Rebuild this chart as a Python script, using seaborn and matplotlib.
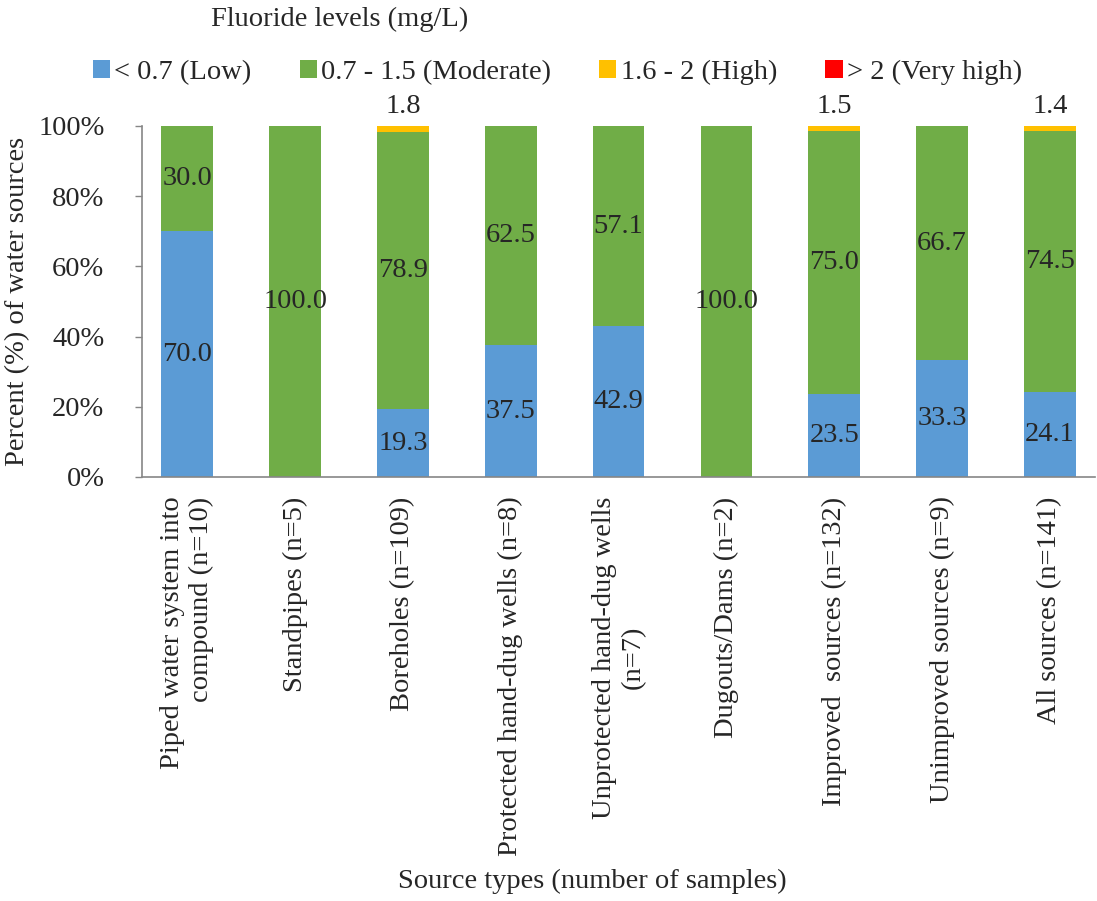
import matplotlib
matplotlib.use("Agg")
import matplotlib.pyplot as plt
import seaborn as sns
import numpy as np
import pandas as pd
from matplotlib.patches import Patch

categories = [
    "Piped water system into\ncompound (n=10)",
    "Standpipes (n=5)",
    "Boreholes (n=109)",
    "Protected hand-dug wells (n=8)",
    "Unprotected hand-dug wells\n(n=7)",
    "Dugouts/Dams (n=2)",
    "Improved  sources (n=132)",
    "Unimproved sources (n=9)",
    "All sources (n=141)",
]
low = [70.0, 0.0, 19.3, 37.5, 42.9, 0.0, 23.5, 33.3, 24.1]
moderate = [30.0, 100.0, 78.9, 62.5, 57.1, 100.0, 75.0, 66.7, 74.5]
high = [0.0, 0.0, 1.8, 0.0, 0.0, 0.0, 1.5, 0.0, 1.4]
very_high = [0.0] * 9

series_names = ["< 0.7 (Low)", "0.7 - 1.5 (Moderate)", "1.6 - 2 (High)", "> 2 (Very high)"]
colors = ["#5B9BD5", "#70AD47", "#FFC000", "#FF0000"]

sns.set_theme(style="white")
plt.rcParams["font.family"] = ["Liberation Serif", "DejaVu Serif"]

FS = 20.5

fig = plt.figure(figsize=(10.97, 9.01), dpi=100)
ax = fig.add_axes([0.1294, 0.4706, 0.869, 0.3896])

df = pd.DataFrame({"cat": categories, "low": low, "moderate": moderate,
                   "high": high, "very_high": very_high})
bottom = np.zeros(len(categories))
for col, name, color in zip(["low", "moderate", "high", "very_high"], series_names, colors):
    sns.barplot(data=df, x="cat", y=col, color=color, width=0.48,
                bottom=bottom, ax=ax, saturation=1, linewidth=0)
    bottom = bottom + df[col].values

# Value labels at segment centres; the small "High" shares go above the bars
for i in range(len(categories)):
    if low[i] > 0:
        ax.text(i, low[i] / 2, f"{low[i]:.1f}", ha="center", va="center", fontsize=FS)
    if moderate[i] > 0:
        ax.text(i, low[i] + moderate[i] / 2, f"{moderate[i]:.1f}", ha="center", va="center", fontsize=FS)
    if high[i] > 0:
        ax.text(i, 102.0, f"{high[i]:.1f}", ha="center", va="bottom", fontsize=FS)

ax.set_xlim(-0.42, 8.42)
ax.set_ylim(0, 100)
ax.set_yticks(np.arange(0, 101, 20))
ax.set_yticklabels([f"{v}%" for v in range(0, 101, 20)], fontsize=FS)
ax.tick_params(axis="y", direction="out", length=5, width=1, color="#868686", pad=22, left=True)
ax.tick_params(axis="x", length=0, pad=14)

ax.set_xticks(range(len(categories)))
ax.set_xticklabels(categories, rotation=90, fontsize=FS, va="top", ha="center")
for lbl, text in zip(ax.get_xticklabels(), categories):
    lbl.set_multialignment("center" if text.startswith("Unprotected") else "right")

for side in ["top", "right"]:
    ax.spines[side].set_visible(False)
for side in ["left", "bottom"]:
    ax.spines[side].set_color("#868686")
    ax.spines[side].set_linewidth(1.2)

ax.set_xlabel("")
fig.text(0.54, 0.022, "Source types (number of samples)", ha="center", va="center", fontsize=FS)
ax.set_ylabel("Percent (%) of water sources", fontsize=FS, labelpad=6)

handles = [Patch(facecolor=c, edgecolor="none") for c in colors]
fig.legend(handles, series_names, loc="center", bbox_to_anchor=(0.508, 0.92), ncol=4,
           frameon=False, fontsize=FS, handlelength=0.6, handleheight=0.6,
           handletextpad=0.15, columnspacing=1.7)
fig.text(0.31, 0.978, "Fluoride levels (mg/L)", ha="center", va="center", fontsize=FS)

fig.savefig("out.png", dpi=100)
